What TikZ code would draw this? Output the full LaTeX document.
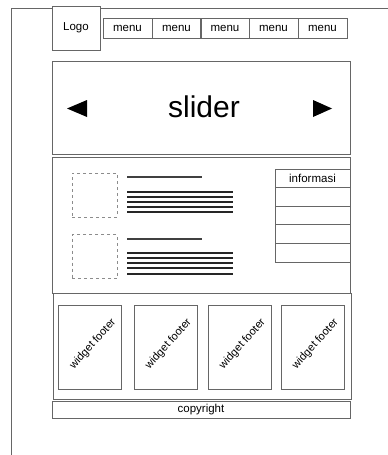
\documentclass[tikz,border=0pt]{standalone}
\usepackage{fontspec}
\setmainfont{Liberation Sans}
\tikzset{
  box/.style={draw=black!60, line width=0.9pt, inner sep=0pt, outer sep=0pt, font=\fontsize{11.5}{13}\selectfont},
  holder/.style={draw=black!45, dashed, line width=0.8pt, inner sep=0pt, outer sep=0pt},
  textline/.style={draw=black!85, line width=1.8pt},
  titleline/.style={draw=black!75, line width=1.2pt}
}
\begin{document}
\begin{tikzpicture}[x=1pt,y=-1pt]
            \useasboundingbox (0,0) rectangle (388,455);
            \coordinate (P) at (11,455);
            \coordinate (Q) at (11,8);
            \coordinate (R) at (388,8);
            \draw[black!60, line width=1pt] (P) -- (Q) -- (R);

            % header
            \node[box, fill=white, minimum width=48, minimum height=44] (logo) at (76,28) {Logo};
            \foreach \x [count=\i] in {127.5,176.5,225,273.5,322.5}
              \node[box, minimum width=49, minimum height=20] (menu\i) at (\x,28) {menu};

            % slider
            \node[box, minimum width=298, minimum height=93] (slider) at (201,107.5) {};
            \node[font=\fontsize{30}{32}\selectfont] (title) at (204,107) {slider};
            \coordinate (L0) at (67,108.5);
            \coordinate (L1) at (87,100);
            \coordinate (L2) at (87,117);
            \fill (L0) -- (L1) -- (L2) -- cycle;
            \coordinate (R1) at (332,108.5);
            \coordinate (R2) at (313,100);
            \coordinate (R0) at (313,117);
            \fill (R1) -- (R2) -- (R0) -- cycle;

            % content
            \node[box, minimum width=298, minimum height=136] (content) at (201.5,225) {};
            \node[holder, minimum width=45, minimum height=44] (img1) at (94.5,195) {};
            \node[holder, minimum width=45, minimum height=44] (img2) at (94.5,256.5) {};
            \draw[titleline] (127,177) -- (202,177);
            \draw[titleline] (127,239) -- (202,239);
            \foreach \y in {192,197,202,207,212,253,258,263,268,274}
              \draw[textline] (127,\y) -- (233,\y);
            \node[box, minimum width=75, minimum height=18.6] (info) at (312.5,178.3) {informasi};
            \foreach \i [evaluate=\i as \yy using 178.3+18.6*\i] in {1,...,4}
              \node[box, minimum width=75, minimum height=18.6] (row\i) at (312.5,\yy) {};

            % footer
            \node[box, minimum width=298, minimum height=106] (footer) at (202,346) {};
            \foreach \x [count=\i] in {90,165.5,239.5,312.5} {
              \node[box, minimum width=63, minimum height=84] (widget\i) at (\x,347) {};
              \node[font=\fontsize{11}{13}\selectfont, rotate=48, inner sep=0pt] (wtext\i) at ([shift={(3,-3)}]widget\i.center) {widget footer};
            }
            \node[box, minimum width=298, minimum height=17] (copy) at (201,409.5) {copyright};
\end{tikzpicture}
\end{document}
